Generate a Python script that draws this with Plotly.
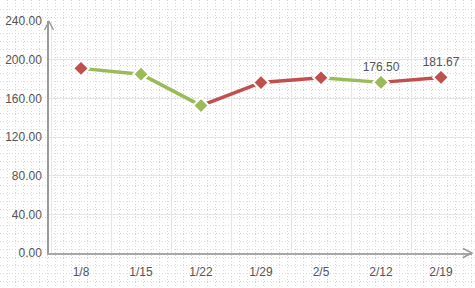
import plotly.graph_objects as go

# ---- data ----
categories = ["1/8", "1/15", "1/22", "1/29", "2/5", "2/12", "2/19"]
values = [191.0, 185.0, 152.5, 176.3, 181.3, 176.50, 181.67]
labeled = ["2/12", "2/19"]
y_ticks = [0, 40, 80, 120, 160, 200, 240]
y_tick_text = ["0.00", "40.00", "80.00", "120.00", "160.00", "200.00", "240.00"]

RED = "#c0504d"
GREEN = "#9bbb59"
FONT = "Liberation Sans, Arial, sans-serif"
TXT = "#555555"

W, H = 475, 288

fig = go.Figure()

# invisible trace to carry the background (dotted) subplot
fig.add_trace(go.Scatter(x=[0], y=[0], mode="markers", marker=dict(opacity=0),
                         hoverinfo="skip", showlegend=False, xaxis="x", yaxis="y"))

# segments coloured by direction
for i in range(len(values) - 1):
    col = RED if values[i + 1] >= values[i] else GREEN
    fig.add_trace(go.Scatter(
        x=categories[i:i + 2], y=values[i:i + 2], mode="lines",
        line=dict(color=col, width=3.5), showlegend=False, hoverinfo="skip",
        xaxis="x2", yaxis="y2"))

marker_colors = [RED] + [RED if values[i] >= values[i - 1] else GREEN
                         for i in range(1, len(values))]
texts = [f"{v:.2f}" if c in labeled else "" for c, v in zip(categories, values)]

fig.add_trace(go.Scatter(
    x=categories, y=values, mode="markers+text",
    marker=dict(symbol="diamond", size=12, color=marker_colors,
                line=dict(color="white", width=2)),
    text=texts, textposition="top center",
    textfont=dict(family=FONT, size=12, color=TXT),
    showlegend=False, xaxis="x2", yaxis="y2"))

px_x = lambda p: p / W
px_y = lambda p: 1 - p / H

axis_col = "#9a9a9a"
shapes = [
    dict(type="path", xref="paper", yref="paper",
         path=f"M {px_x(44.5)},{px_y(30)} L {px_x(49)},{px_y(21.5)} L {px_x(53.5)},{px_y(30)}",
         line=dict(color=axis_col, width=1.5)),
    dict(type="path", xref="paper", yref="paper",
         path=f"M {px_x(463)},{px_y(248.5)} L {px_x(472)},{px_y(253)} L {px_x(463)},{px_y(257.5)}",
         line=dict(color=axis_col, width=1.5)),
]

dot_grid = dict(showgrid=True, gridcolor="#d9d9d9", griddash="1px,2px", gridwidth=1,
                showticklabels=False, zeroline=False, showline=False, fixedrange=True,
                automargin=False, ticks="")

fig.update_layout(
    template="none",
    width=W, height=H,
    margin=dict(l=0, r=0, t=0, b=0, pad=0, autoexpand=False),
    paper_bgcolor="white",
    plot_bgcolor="rgba(0,0,0,0)",
    font=dict(family=FONT, size=12, color=TXT),
    showlegend=False,
    shapes=shapes,
    # background dotted pattern
    xaxis=dict(domain=[0, 1], range=[0, W], tick0=7, dtick=8, **dot_grid),
    yaxis=dict(domain=[0, 1], range=[H, 0], tick0=1, dtick=8, **dot_grid),
    # main chart
    xaxis2=dict(domain=[49 / W, 472 / W], anchor="y2", automargin=False,
                type="category", categoryorder="array", categoryarray=categories,
                range=[-0.5 - 2 / 60, 6.5 + 1 / 60],
                tickson="boundaries", showgrid=True, gridcolor="#e6e6e6", gridwidth=1,
                showline=True, linecolor="#a8a8a8", linewidth=2,
                ticks="", ticklabelstandoff=7,
                tickfont=dict(family=FONT, size=12, color=TXT), zeroline=False),
    yaxis2=dict(domain=[1 - 253 / H, 1 - 21 / H], anchor="x2", automargin=False,
                range=[0, 240], tickvals=y_ticks, ticktext=y_tick_text,
                showgrid=True, gridcolor="#e6e6e6", gridwidth=1,
                showline=True, linecolor=axis_col, linewidth=1.5,
                ticks="", ticklabelstandoff=3, zeroline=False,
                tickfont=dict(family=FONT, size=12, color=TXT)),
)

fig.write_html("out.html")
